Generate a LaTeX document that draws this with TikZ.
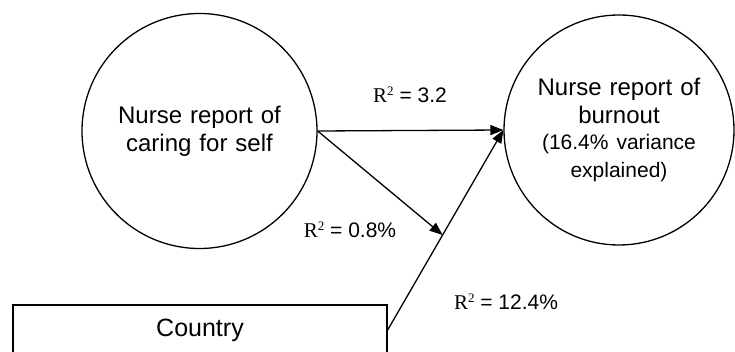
\documentclass[tikz,border=0pt]{standalone}
\usepackage{fontspec}
\setmainfont{Liberation Sans}
\newfontfamily\serifR{Liberation Serif}
\usetikzlibrary{arrows.meta,calc}
\newcommand\Rsq{{\serifR R}\raisebox{7pt}{\fontsize{13}{13}\selectfont\serifR 2}}
\begin{document}
\begin{tikzpicture}[x=1pt,y=-1pt, line width=1.3pt,
  circ/.style={draw, circle, inner sep=0pt, align=center, text width=175pt, font=\fontsize{24}{28}\selectfont},
  boxn/.style={draw, rectangle, minimum width=374pt, minimum height=50pt, inner sep=0pt, font=\fontsize{25}{28}\selectfont},
  lbl/.style={font=\fontsize{21}{24}\selectfont},
  arr/.style={-{Triangle[length=13pt,width=10pt]}}]
\useasboundingbox (0,0) rectangle (735,352);
\clip (0,0) rectangle (735,352);
\node[circ, minimum size=235pt] (self) at (199.5,131) {Nurse report of\\caring for self};
\node[circ, minimum size=230pt] (burn) at (619,130) {Nurse report of\\burnout\par\fontsize{21}{26}\selectfont (16.4\% variance\\explained)};
\node[boxn] (country) at (200,330) {Country};
\coordinate (hit) at ($(country.east)!0.475!(burn.west)$);
\draw[arr] (self.east) -- (burn.west);
\draw[arr] (self.east) -- (hit);
\draw[arr] (country.east) -- (burn.west);
\node[lbl] (l1) at (410,95) {\Rsq{} = 3.2};
\node[lbl] (l2) at (350,230) {\Rsq{} = 0.8\%};
\node[lbl] (l3) at (506,302) {\Rsq{} = 12.4\%};
\end{tikzpicture}
\end{document}
